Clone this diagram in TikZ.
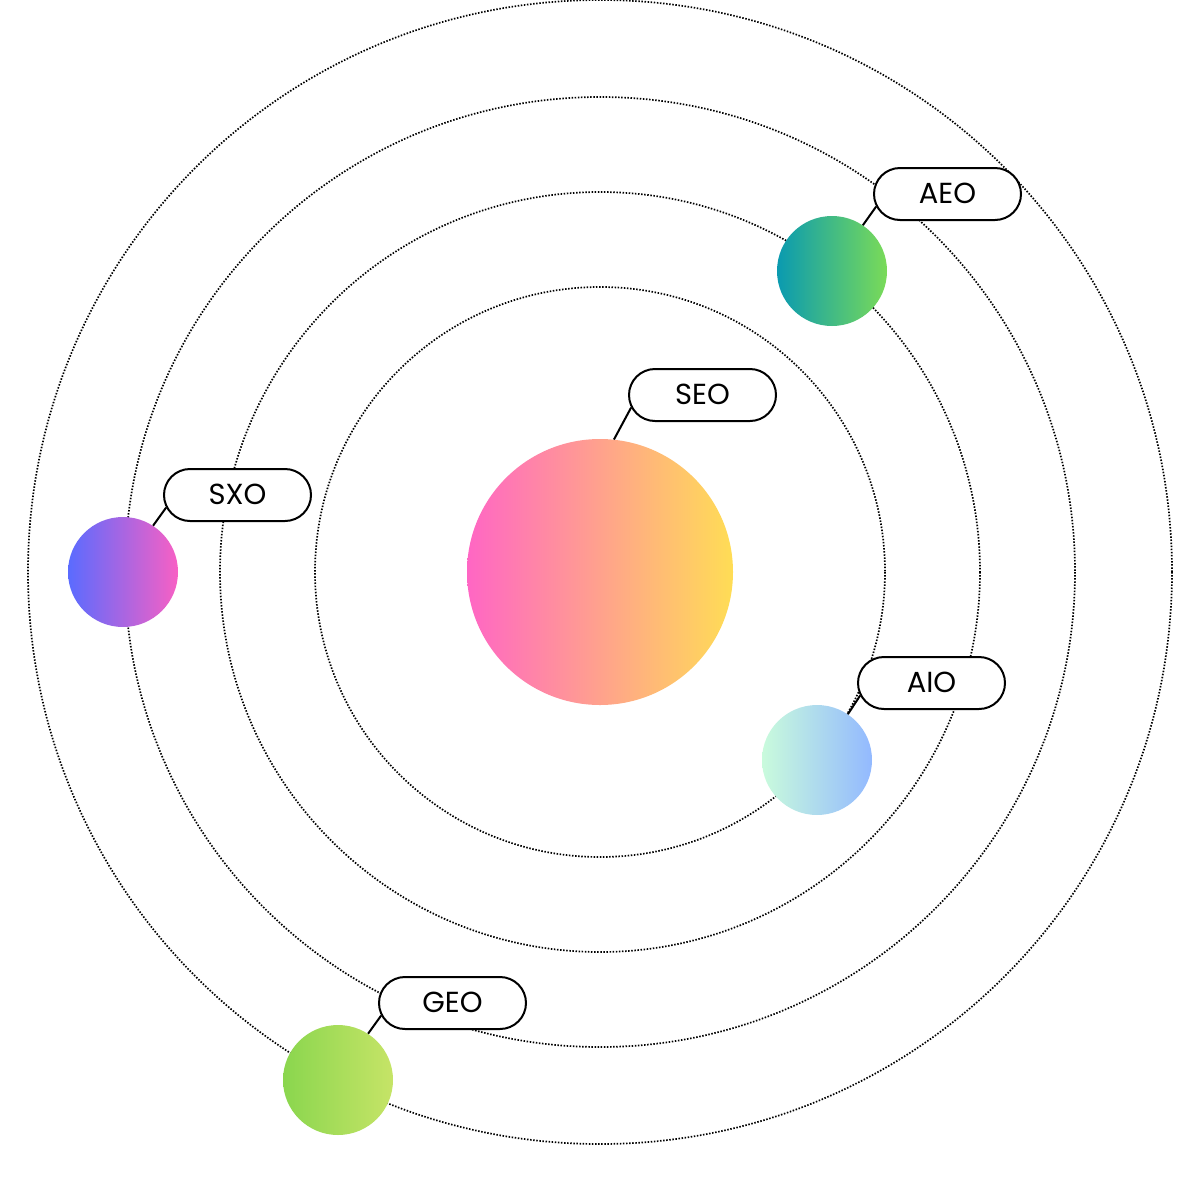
\documentclass[tikz,border=0pt]{standalone}
\usepackage{fontspec}
\setmainfont{Poppins}
\usetikzlibrary{shapes.misc}
\definecolor{sunL}{HTML}{FF66C4}
\definecolor{sunR}{HTML}{FFDD55}
\definecolor{aeoL}{HTML}{0A9AB0}
\definecolor{aeoR}{HTML}{7ADB58}
\definecolor{sxoL}{HTML}{5A6BFF}
\definecolor{sxoR}{HTML}{F860C4}
\definecolor{aioL}{HTML}{C9FBDC}
\definecolor{aioR}{HTML}{93B9FF}
\definecolor{geoL}{HTML}{8AD64E}
\definecolor{geoR}{HTML}{C6E467}
\begin{document}
\begin{tikzpicture}[x=1pt,y=-1pt,
  orbit/.style={line width=1.7pt, dash pattern=on 1.5pt off 1.6pt},
  planet/.style={circle, inner sep=0pt, minimum size=110pt},
  tag/.style={rounded rectangle, draw, line width=2pt, fill=white, minimum width=147pt, minimum height=52pt, inner sep=0pt, font=\fontsize{29}{29}\selectfont},
  link/.style={line width=2pt}]
\useasboundingbox (0,0) rectangle (1200,1200);
\coordinate (o) at (600,572);
\foreach \r in {285,380,475,572} \draw[orbit] (o) circle[radius=\r];
\node[planet, minimum size=266pt, left color=sunL, right color=sunR] (sun) at (o) {};
\node[planet, left color=aeoL, right color=aeoR] (aeo) at (832,271) {};
\node[planet, left color=sxoL, right color=sxoR] (sxo) at (123,572) {};
\node[planet, left color=aioL, right color=aioR] (aio) at (817,760) {};
\node[planet, left color=geoL, right color=geoR] (geo) at (338,1080) {};
\node[tag] (tseo) at (702.5,395) {\raisebox{1.5pt}{SEO}};
\node[tag] (taeo) at (947.5,194) {\raisebox{1.5pt}{AEO}};
\node[tag] (tsxo) at (237.5,495) {\raisebox{1.5pt}{SXO}};
\node[tag] (taio) at (931.5,683) {\raisebox{1.5pt}{AIO}};
\node[tag] (tgeo) at (452.5,1003) {\raisebox{1.5pt}{GEO}};
\draw[link] (sun.84) -- (tseo.190);
\draw[link] (aeo.56) -- (taeo.190);
\draw[link] (sxo.57) -- (tsxo.190);
\draw[link] (aio.56) -- (taio.190);
\draw[link] (geo.57) -- (tgeo.190);
\end{tikzpicture}
\end{document}
